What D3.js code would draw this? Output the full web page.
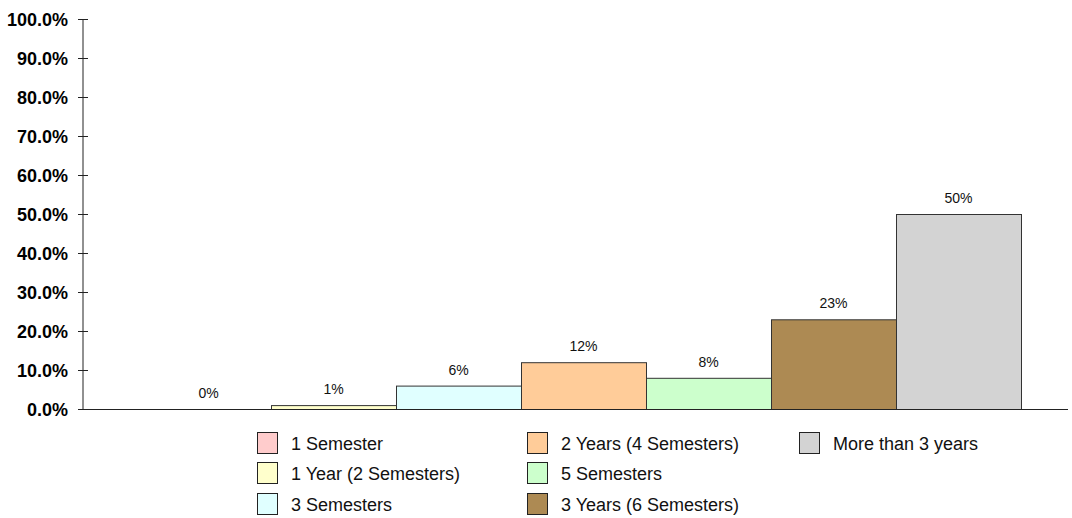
<!DOCTYPE html>
<html>
<head>
<meta charset="utf-8">
<script src="https://cdn.jsdelivr.net/npm/d3@7"></script>
<style>
  body { margin: 0; background: #fff; }
  svg { font-family: "Liberation Sans", Arial, sans-serif; }
</style>
</head>
<body>
<svg width="1072" height="518"></svg>
<script>
// data
const categories = ["1 Semester", "1 Year (2 Semesters)", "3 Semesters", "2 Years (4 Semesters)",
    "5 Semesters", "3 Years (6 Semesters)", "More than 3 years"];
const values = [0, 1, 6, 12, 8, 23, 50];
const colors = ["#ffcccc", "#ffffcc", "#e0ffff", "#ffcc99", "#ccffcc", "#ad8a53", "#d3d3d3"];
const yTicks = [0, 10, 20, 30, 40, 50, 60, 70, 80, 90, 100];

const svg = d3.select("svg");

const axisX = 83, axisRight = 1068;
const y = d3.scaleLinear().domain([0, 100]).range([409, 19]);
const x = d3.scaleBand().domain(categories).range([146, 1021]).paddingInner(0);

// y axis line + ticks (ticks cross the axis)
svg.append("line")
    .attr("x1", axisX).attr("x2", axisX)
    .attr("y1", y(100)).attr("y2", y(0))
    .attr("stroke", "#222").attr("stroke-width", 1);

svg.selectAll(".tick")
    .data(yTicks)
    .enter()
    .append("line")
    .attr("class", "tick")
    .attr("x1", axisX - 5).attr("x2", axisX + 5)
    .attr("y1", d => y(d) + 0.5).attr("y2", d => y(d) + 0.5)
    .attr("stroke", "#222");

svg.selectAll(".ytick-label")
    .data(yTicks)
    .enter()
    .append("text")
    .attr("class", "ytick-label")
    .attr("x", 68)
    .attr("y", d => y(d) + 7)
    .attr("text-anchor", "end")
    .attr("font-size", 18)
    .attr("font-weight", "bold")
    .text(d => d.toFixed(1) + "%");

// bars
svg.selectAll(".bar")
    .data(values)
    .enter()
    .append("rect")
    .attr("class", "bar")
    .attr("x", (d, i) => x(categories[i]) + 0.5)
    .attr("width", x.bandwidth())
    .attr("y", d => y(d) + 0.5)
    .attr("height", d => y(0) - y(d))
    .attr("fill", (d, i) => colors[i])
    .attr("stroke", (d, i) => d > 0 ? "#333" : "none")
    .attr("stroke-width", 1);

// x axis baseline
svg.append("line")
    .attr("x1", axisX).attr("x2", axisRight)
    .attr("y1", y(0) + 0.5).attr("y2", y(0) + 0.5)
    .attr("stroke", "#222");

// value labels
svg.selectAll(".val")
    .data(values)
    .enter()
    .append("text")
    .attr("class", "val")
    .attr("x", (d, i) => x(categories[i]) + x.bandwidth() / 2)
    .attr("y", d => y(d) - 11)
    .attr("text-anchor", "middle")
    .attr("font-size", 14)
    .attr("fill", "#111")
    .text(d => d + "%");

// legend: column-major, 3 rows
const legendCols = [257, 527, 799];
const legendRows = [443, 473, 504];
const legend = svg.selectAll(".legend")
    .data(categories)
    .enter()
    .append("g")
    .attr("class", "legend")
    .attr("transform", (d, i) => `translate(${legendCols[Math.floor(i / 3)]},${legendRows[i % 3]})`);

legend.append("rect")
    .attr("x", 0.5).attr("y", -10.5)
    .attr("width", 20).attr("height", 21)
    .attr("fill", (d, i) => colors[i])
    .attr("stroke", "#222");

legend.append("text")
    .attr("x", 34)
    .attr("y", 6.5)
    .attr("font-size", 18)
    .attr("fill", "#111")
    .text(d => d);
</script>
</body>
</html>
